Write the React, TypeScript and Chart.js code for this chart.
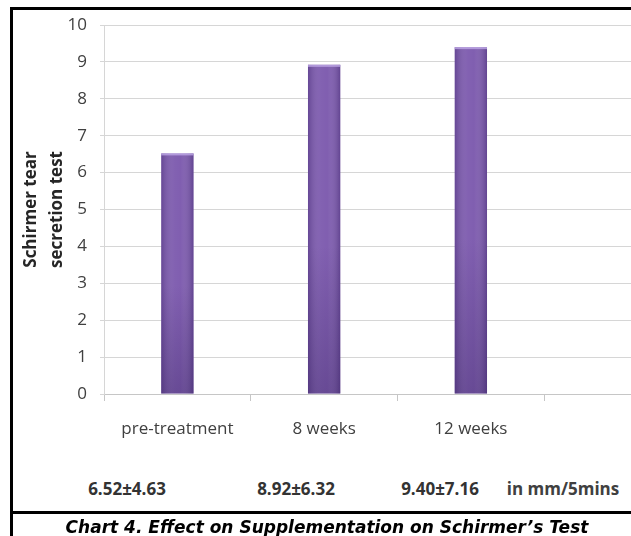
import { useEffect, useRef } from "react";
import { Chart, registerables } from "chart.js";

Chart.register(...registerables);

// Schirmer tear secretion (mm/5 min) at each visit
const categories = ["pre-treatment", "8 weeks", "12 weeks", ""];
const meanValues = [6.52, 8.92, 9.4];
const sdValues = [4.63, 6.32, 7.16];
const yTickValues = [0, 1, 2, 3, 4, 5, 6, 7, 8, 9, 10];
const axisTitle = ["Schirmer tear", "secretion test"];
const unitLabel = "in mm/5mins";
const caption = "Chart 4. Effect on Supplementation on Schirmer\u2019s Test";

// horizontal centres of the mean±SD row under the chart
const statRowX = [127, 296, 440];
const unitX = 563;

const BAR_BASE = "#7b58ad";

// Soft cylinder-like shading on each bar, painted over the flat fill
const barShading = {
  id: "barShading",
  afterDatasetsDraw(chart: any) {
    const ctx: CanvasRenderingContext2D = chart.ctx;
    const values = chart.data.datasets[0].data;
    chart.getDatasetMeta(0).data.forEach((bar: any, i: number) => {
      if (values[i] === null || values[i] === undefined) return;
      const { x, y, base, width } = bar.getProps(["x", "y", "base", "width"], true);
      const h = base - y;
      if (!isFinite(h) || h <= 0) return;
      const left = x - width / 2;
      ctx.save();
      const hg = ctx.createLinearGradient(left, 0, left + width, 0);
      hg.addColorStop(0, "rgba(45,25,85,0.28)");
      hg.addColorStop(0.4, "rgba(255,255,255,0.06)");
      hg.addColorStop(0.6, "rgba(255,255,255,0.04)");
      hg.addColorStop(1, "rgba(45,25,85,0.32)");
      ctx.fillStyle = hg;
      ctx.fillRect(left, y, width, h);
      const vg = ctx.createLinearGradient(0, y, 0, base);
      vg.addColorStop(0, "rgba(45,25,85,0)");
      vg.addColorStop(0.55, "rgba(45,25,85,0)");
      vg.addColorStop(1, "rgba(45,25,85,0.3)");
      ctx.fillStyle = vg;
      ctx.fillRect(left, y, width, h);
      ctx.fillStyle = "rgba(190,168,230,0.8)";
      ctx.fillRect(left, y, width, 2);
      ctx.restore();
    });
  },
};

function SchirmerChart() {
  const canvasRef = useRef<HTMLCanvasElement | null>(null);

  useEffect(() => {
    if (!canvasRef.current) return;
    const tickFont = { family: "'Open Sans', sans-serif", size: 17 };
    const chart = new Chart(canvasRef.current, {
      type: "bar",
      data: {
        labels: categories,
        datasets: [
          {
            data: [...meanValues, null],
            backgroundColor: BAR_BASE,
            borderWidth: 0,
            barPercentage: 0.22,
            categoryPercentage: 1,
          },
        ],
      },
      options: {
        animation: false,
        responsive: false,
        maintainAspectRatio: false,
        layout: { padding: { top: 25, right: 9, left: 0, bottom: 0 } },
        plugins: {
          legend: { display: false },
          tooltip: { enabled: false },
        },
        scales: {
          x: {
            type: "category",
            offset: true,
            grid: {
              offset: true,
              drawOnChartArea: false,
              drawTicks: true,
              tickLength: 7,
              color: "#c6c6c6",
            },
            border: { color: "#c6c6c6" },
            ticks: {
              color: "#404040",
              font: tickFont,
              padding: 18,
              maxRotation: 0,
              autoSkip: false,
            },
            afterFit: (s: any) => {
              s.height = 66;
            },
          },
          y: {
            min: 0,
            max: 10,
            afterBuildTicks: (s: any) => {
              s.ticks = yTickValues.map((v) => ({ value: v }));
            },
            ticks: { color: "#404040", font: tickFont, padding: 13 },
            grid: { color: "#d6d6d6", tickLength: 4 },
            border: { color: "#d6d6d6" },
            title: {
              display: true,
              text: axisTitle,
              color: "#262626",
              font: { family: "'Open Sans', sans-serif", size: 17, weight: "bold", lineHeight: 1.55 },
              padding: { top: 18, bottom: 0 },
            },
            afterFit: (s: any) => {
              s.width = 104;
            },
          },
        },
      },
      plugins: [barShading],
    } as any);
    return () => chart.destroy();
  }, []);

  return (
    <canvas
      ref={canvasRef}
      width={700}
      height={460}
      style={{ position: "absolute", left: 0, top: 0, width: 700, height: 460, display: "block" }}
    />
  );
}

export default function App() {
  const statText = meanValues.map((m, i) => `${m.toFixed(2)}\u00b1${sdValues[i].toFixed(2)}`);
  const rowStyle: React.CSSProperties = {
    position: "absolute",
    top: 488,
    transform: "translate(-50%, -50%)",
    whiteSpace: "nowrap",
    fontFamily: "'Open Sans', sans-serif",
    fontWeight: 700,
    fontSize: 17,
    color: "#333333",
  };
  return (
    <div
      style={{
        position: "fixed",
        left: 0,
        top: 0,
        width: 631,
        height: 536,
        overflow: "hidden",
        background: "#ffffff",
      }}
    >
      <SchirmerChart />
      {statText.map((t, i) => (
        <div key={i} style={{ ...rowStyle, left: statRowX[i] }}>
          {t}
        </div>
      ))}
      <div style={{ ...rowStyle, left: unitX, color: "#404040" }}>{unitLabel}</div>
      {/* frame around chart and caption; its right side runs past the page edge */}
      <div style={{ position: "absolute", left: 10, top: 7, width: 3, height: 560, background: "#000" }} />
      <div style={{ position: "absolute", left: 10, top: 7, width: 640, height: 3, background: "#000" }} />
      <div style={{ position: "absolute", left: 10, top: 511, width: 640, height: 3, background: "#000" }} />
      <div
        style={{
          position: "absolute",
          left: 0,
          width: 654,
          top: 527,
          transform: "translateY(-50%)",
          textAlign: "center",
          whiteSpace: "nowrap",
          fontFamily: "'DejaVu Sans', Verdana, sans-serif",
          fontWeight: 700,
          fontStyle: "italic",
          fontSize: 17,
          color: "#000",
        }}
      >
        {caption}
      </div>
    </div>
  );
}
